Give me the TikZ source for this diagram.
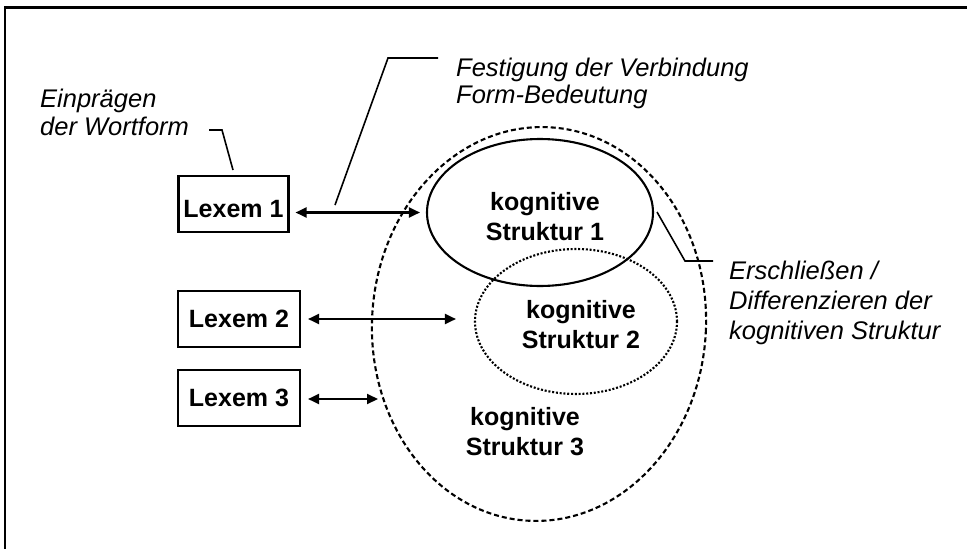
\documentclass[tikz,border=0pt]{standalone}
\usepackage{fontspec}
\setmainfont{Liberation Sans}
\usetikzlibrary{arrows.meta,shapes.geometric}
\begin{document}
\begin{tikzpicture}[x=1pt,y=-1pt,
  lexbox/.style={draw,line width=2.1pt,minimum height=56pt,inner sep=0pt,
    font=\fontsize{25}{30}\selectfont\bfseries},
  struct/.style={ellipse,draw,line width=2.1pt,inner sep=0pt},
  blabel/.style={font=\fontsize{25}{30}\selectfont\bfseries,inner sep=0pt,anchor=base},
  ilabel/.style={inner sep=0pt,anchor=base west},
  link/.style={line width=2.1pt,
    {Triangle[length=11pt,width=10pt]}-{Triangle[length=11pt,width=10pt]}},
  callout/.style={line width=1.6pt}]
\useasboundingbox (0,0) rectangle (967,549);

% page frame (top and left edges)
\draw[line width=3pt] (4,7) -- (967,7);
\draw[line width=1.4pt] (5,7) -- (5,549);

% cognitive structures
\node[struct,dash pattern=on 5pt off 3pt,minimum width=334pt,minimum height=394pt,rotate=-3] (s3) at (539,324) {};
\node[struct,minimum width=226pt,minimum height=147pt] (s1) at (540,212.5) {};
\node[struct,dash pattern=on 2pt off 1.8pt,minimum width=202pt,minimum height=145pt] (s2) at (576,321.5) {};

\node[blabel] (t1) at (545,210) {\begin{tabular}[t]{@{}c@{}}kognitive\\Struktur 1\end{tabular}};
\node[blabel] (t2) at (581,318) {\begin{tabular}[t]{@{}c@{}}kognitive\\Struktur 2\end{tabular}};
\node[blabel] (t3) at (525,425) {\begin{tabular}[t]{@{}c@{}}kognitive\\Struktur 3\end{tabular}};

% lexemes
\node[lexbox,minimum width=110pt,text height=26pt,text depth=0pt] (x1) at (233.5,204) {Lexem 1};
\node[lexbox,minimum width=122pt] (x2) at (239,319) {Lexem 2};
\node[lexbox,minimum width=122pt] (x3) at (239,398) {Lexem 3};

% form-meaning links
\coordinate (e3) at (378,399);
\draw[link,shorten <=6pt,shorten >=6pt] (x1.east |- s1.west) -- (s1.west);
\draw[link,shorten <=7pt,shorten >=18pt] (x2.east) -- (x2.east -| s2.west);
\draw[link,shorten <=7pt] (x3.east |- e3) -- (e3);

% annotations
\node[ilabel,font=\fontsize{25.5}{28}\selectfont\itshape] (a1) at (40,107)
  {\begin{tabular}[t]{@{}l@{}}Einprägen\\der Wortform\end{tabular}};
\node[ilabel,font=\fontsize{25.5}{27.5}\selectfont\itshape] (a2) at (456,76)
  {\begin{tabular}[t]{@{}l@{}}Festigung der Verbindung\\Form-Bedeutung\end{tabular}};
\node[ilabel,font=\fontsize{25.5}{30}\selectfont\itshape] (a3) at (729,279)
  {\begin{tabular}[t]{@{}l@{}}Erschließen /\\Differenzieren der\\kognitiven Struktur\end{tabular}};

% callout leaders
\coordinate (c1) at (233,170);
\coordinate (c2) at (335,205);
\coordinate (c3) at (657,212);
\draw[callout] (209,130) -- (222,130) -- (c1);
\draw[callout] (438,58) -- (388,58) -- (c2);
\draw[callout] (c3) -- (685,261) -- (713,261);
\end{tikzpicture}
\end{document}
